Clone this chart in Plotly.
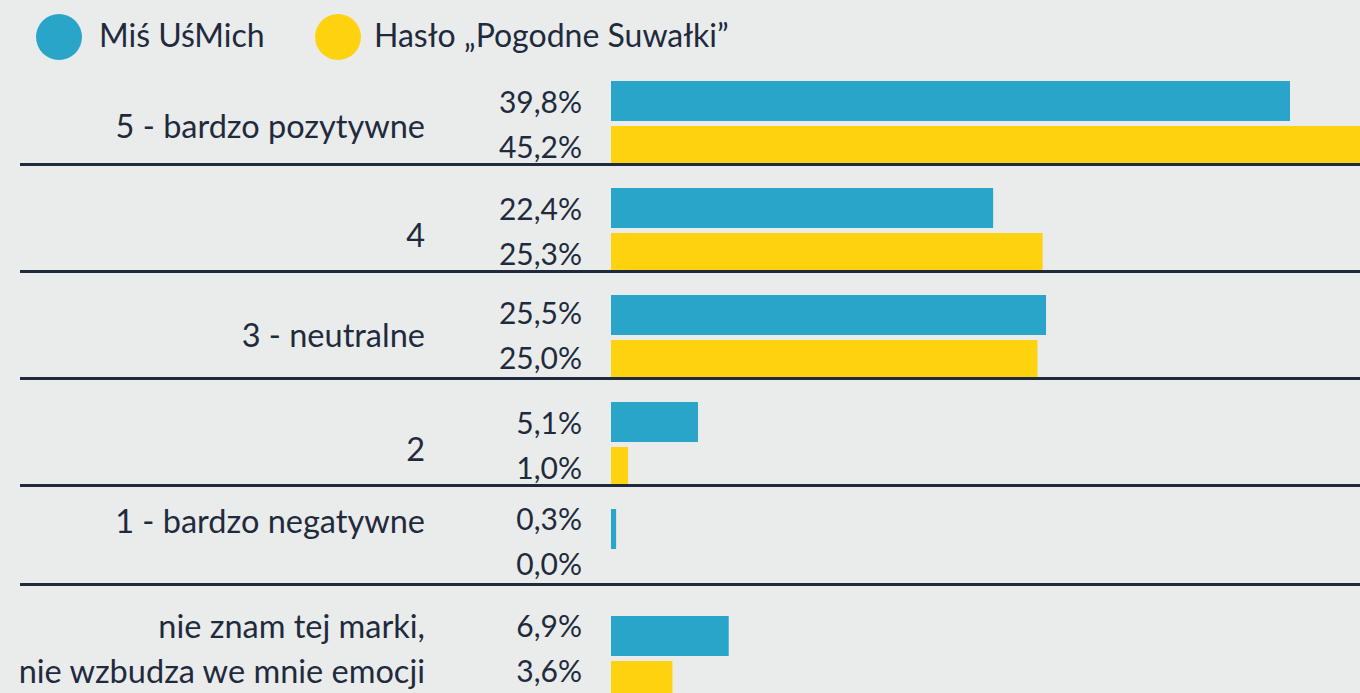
import plotly.graph_objects as go

# ---------------- data ----------------
categories = [
    "5 - bardzo pozytywne",
    "4",
    "3 - neutralne",
    "2",
    "1 - bardzo negatywne",
    "nie znam tej marki,<br>nie wzbudza we mnie emocji",
]
series_names = ["Miś UśMich", "Hasło „Pogodne Suwałki”"]
mis_usmich = [39.8, 22.4, 25.5, 5.1, 0.3, 6.9]
haslo_pogodne = [45.2, 25.3, 25.0, 1.0, 0.0, 3.6]

# ---------------- style / layout ----------------
W, H = 1360, 693
STEP = 107.0      # px per category row
ORIGIN = 123.5    # px (from top) of category 0 centre
PLOT_LEFT = 611   # px where bars start
PX_PER_UNIT = 17.06

BLUE = "#29a5c9"
YELLOW = "#fed20e"
BG = "#eaeceb"
INK = "#1f2b3d"
FONT = "Lato"
FS_CAT = 32.5
FS_VAL = 30
FS_LEG = 32

# vertical nudges (px) for category labels and value labels, per row
CAT_NUDGE = [6, 8, 1, 8, -27, -6]
VAL_NUDGE = [4, 4, 1, 4, -7, -7]
LINE_GAP = 45     # px between lines of a two-line category label
# separator offset (px) below each row centre
SEP_OFF = [41, 41, 41, 41, 33]


def py(p):  # px length -> y units
    return p / STEP


def px_x(p):  # px length -> x units
    return p / PX_PER_UNIT


def fmt(v):
    return f"{v:.1f}".replace(".", ",") + "%"


idx = list(range(len(categories)))
half = py(22.5)
bar_w = py(40)

fig = go.Figure()
series = [(mis_usmich, series_names[0], BLUE, -1), (haslo_pogodne, series_names[1], YELLOW, 1)]
for vals, name, color, sign in series:
    ys = [i + sign * half for i in idx]
    fig.add_trace(go.Bar(
        x=vals, y=ys, orientation="h", width=bar_w,
        marker=dict(color=color, line=dict(width=0)),
        name=name, showlegend=False, hoverinfo="x",
    ))
    # value labels
    fig.add_trace(go.Scatter(
        x=[-px_x(PLOT_LEFT - 582)] * len(vals),
        y=[yv + py(n) for yv, n in zip(ys, VAL_NUDGE)],
        mode="text", text=[fmt(v) for v in vals],
        textposition="middle left",
        textfont=dict(family=FONT, size=FS_VAL, color=INK),
        showlegend=False, hoverinfo="skip", cliponaxis=False,
    ))

# category labels (multi-line labels split into separate lines)
lab_x, lab_y, lab_t = [], [], []
for i, (cat, n) in enumerate(zip(categories, CAT_NUDGE)):
    lines = cat.split("<br>")
    k = len(lines)
    for j, line in enumerate(lines):
        lab_x.append(-px_x(PLOT_LEFT - 425))
        lab_y.append(i + py(n + (j - (k - 1) / 2) * LINE_GAP))
        lab_t.append(line)
fig.add_trace(go.Scatter(
    x=lab_x, y=lab_y, mode="text", text=lab_t, textposition="middle left",
    textfont=dict(family=FONT, size=FS_CAT, color=INK),
    showlegend=False, hoverinfo="skip", cliponaxis=False,
))

shapes = []
for i, off in zip(idx, SEP_OFF):
    yy = i + py(off)
    shapes.append(dict(type="line", xref="paper", yref="y", x0=20 / W, x1=1,
                       y0=yy, y1=yy, line=dict(color=INK, width=3), layer="above"))

# legend (manual)
legend_items = [(series_names[0], BLUE, 59, 97), (series_names[1], YELLOW, 338, 372)]
annotations = []
for name, color, cx, tx in legend_items:
    r = 23
    shapes.append(dict(type="circle", xref="paper", yref="paper",
                       x0=(cx - r) / W, x1=(cx + r) / W,
                       y0=1 - (37 + r) / H, y1=1 - (37 - r) / H,
                       fillcolor=color, line=dict(width=0)))
    annotations.append(dict(xref="paper", yref="paper", x=tx / W, y=1 - 35 / H,
                            xanchor="left", yanchor="middle", showarrow=False,
                            text=name, font=dict(family=FONT, size=FS_LEG, color=INK)))

fig.update_layout(
    width=W, height=H,
    margin=dict(l=0, r=0, t=0, b=0),
    paper_bgcolor=BG, plot_bgcolor=BG,
    barmode="overlay",
    showlegend=False,
    xaxis=dict(domain=[0, 1], range=[-PLOT_LEFT / PX_PER_UNIT, (W - PLOT_LEFT) / PX_PER_UNIT],
               visible=False, fixedrange=True),
    yaxis=dict(range=[(H - ORIGIN) / STEP, -ORIGIN / STEP], visible=False, fixedrange=True),
    shapes=shapes, annotations=annotations,
    font=dict(family=FONT, color=INK),
)

fig.write_html(
    "out.html",
    config={"displayModeBar": False},
    post_script="document.body.style.margin='0';document.body.style.overflow='hidden';",
)
